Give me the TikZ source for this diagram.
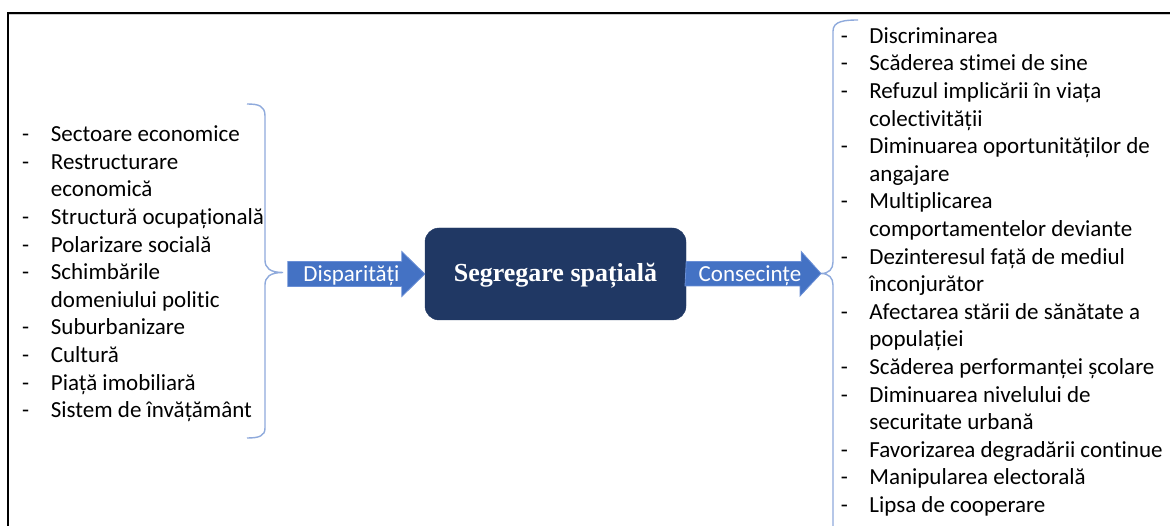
\documentclass[tikz,border=0pt]{standalone}
\usepackage{fontspec}
\setmainfont{Carlito}[RawFeature={-liga}]
\newfontfamily\boxfont{Liberation Serif}
\usepackage{array}
\usetikzlibrary{calc}
\definecolor{navy}{HTML}{203864}
\definecolor{arrowblue}{HTML}{4472C4}
\definecolor{arrowedge}{HTML}{6A8FD6}
\definecolor{bracecol}{HTML}{8FAADC}
\begin{document}
\begin{tikzpicture}[x=1pt,y=-1pt,
  listtext/.style={font=\fontsize{23}{27.6}\selectfont, text=black, inner sep=0pt, anchor=base west},
  arrowlabel/.style={font=\fontsize{23}{27.6}\selectfont, text=white, inner sep=0pt, anchor=base},
  mainbox/.style={fill=navy, draw=navy, rounded corners=14pt, minimum width=261pt, minimum height=92pt, inner sep=0pt},
  blockarrow/.style={fill=arrowblue, draw=arrowedge, line width=0.8pt, line join=miter},
  bracestyle/.style={draw=bracecol, line width=1.4pt},
  framestyle/.style={draw=black, line width=2.2pt}
]
\useasboundingbox (0,0) rectangle (1170,526);
\clip (0,0) rectangle (1170,526);
\fill[white] (0,0) rectangle (1170,526);

% frame
\draw[gray!40, line width=1pt] (9,15) -- (1175,15);
\draw[framestyle] (7.7,540) -- (7.7,12.8) -- (1180,12.8);

% central box
\node[mainbox] (box) at (555.5,274) {};
\node[font=\boxfont\bfseries\fontsize{26}{30}\selectfont, text=white, anchor=base, inner sep=0pt] (boxtext) at (555.5,281.7) {Segregare spațială};

% brace tips
\coordinate (ltip) at (283,272.5);
\coordinate (rtip) at (821,273.5);

% left brace
\draw[bracestyle] (247,104) .. controls (259,104) and (265,106) .. (265,116)
  -- (265,260) .. controls (265,268) and (270,272.5) .. (ltip)
  .. controls (270,272.5) and (265,277) .. (265,285)
  -- (265,428) .. controls (265,436) and (259,438) .. (247,438);

% right brace
\draw[bracestyle] (858,20) .. controls (845,20) and (833,21) .. (833,31)
  -- (833,262) .. controls (833,269) and (829,273.5) .. (rtip)
  .. controls (829,273.5) and (833,278) .. (833,285)
  -- (833,540);

% left arrow (Disparitati)
\draw[blockarrow] (box.west) -- ++(-23,-22.5) -- ++(0,10) -- ++(-114,0) -- ++(0,25) -- ++(114,0) -- ++(0,10) -- cycle;
\node[arrowlabel] (displab) at (351.5,281.7) {Disparități};

% right arrow (Consecinte)
\draw[blockarrow] ($(box.east)+(0,-12.5)$) -- ++(115,0) -- ++(0,-10) -- (rtip) -- ++(-21,22.5) -- ++(0,-10) -- ++(-115,0) -- cycle;
\node[arrowlabel] (conslab) at (750,281.7) {Consecințe};

% left list
\node[listtext] (causes) at (22,141.7) {%
\begin{tabular}[t]{@{}p{28.7pt}@{}l@{}}
- & Sectoare economice\\
- & Restructurare\\
  & economică\\
- & Structură ocupațională\\
- & Polarizare socială\\
- & Schimbările\\
  & domeniului politic\\
- & Suburbanizare\\
- & Cultură\\
- & Piață imobiliară\\
- & Sistem de învățământ
\end{tabular}};

% right list
\node[listtext] (effects) at (840.6,43.3) {%
\begin{tabular}[t]{@{}p{28.6pt}@{}l@{}}
- & Discriminarea\\
- & Scăderea stimei de sine\\
- & Refuzul implicării în viața\\
  & colectivității\\
- & Diminuarea oportunităților de\\
  & angajare\\
- & Multiplicarea\\
  & comportamentelor deviante\\
- & Dezinteresul față de mediul\\
  & înconjurător\\
- & Afectarea stării de sănătate a\\
  & populației\\
- & Scăderea performanței școlare\\
- & Diminuarea nivelului de\\
  & securitate urbană\\
- & Favorizarea degradării continue\\
- & Manipularea electorală\\
- & Lipsa de cooperare
\end{tabular}};
\end{tikzpicture}
\end{document}
